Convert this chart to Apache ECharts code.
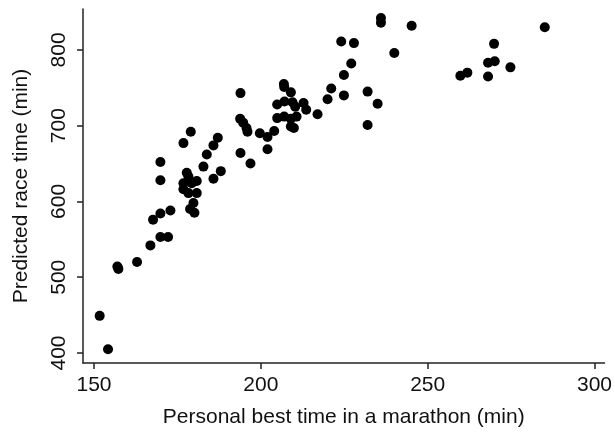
<!DOCTYPE html>
<html>
<head>
<meta charset="utf-8">
<script src="https://cdn.jsdelivr.net/npm/echarts@6/dist/echarts.min.js"></script>
<style>html,body{margin:0;padding:0;background:#fff;}#c{width:615px;height:433px;}</style>
</head>
<body>
<div id="c"></div>
<script>
// Personal best marathon time (min)
var pbTime = [151.7,154.2,157.0,157.3,162.9,166.9,169.9,172.2,167.7,169.9,172.9,169.9,169.9,176.8,179.0,177.8,178.3,176.8,179.3,180.8,176.8,178.3,180.8,179.8,178.8,180.1,182.8,183.8,185.8,187.1,185.8,188.0,193.9,193.8,194.7,195.7,196.0,193.9,196.9,199.7,202.0,204.0,202.0,206.9,207.0,209.0,204.9,207.1,209.5,210.3,212.8,213.6,204.9,207.0,209.0,210.7,209.0,209.9,217.0,220.0,221.1,224.1,227.9,227.1,224.9,224.9,232.0,235.0,232.0,236.0,236.0,245.2,240.0,259.8,261.9,268.1,268.1,270.1,269.9,274.8,285.1];
// Predicted race time (min)
var predTime = [449,405,514,511,520,542,553,553,576,584,588,628,652,677,692,638,633,624,624,627,616,611,611,598,590,585,646,662,674,684,630,640,743,709,704,697,692,664,650,690,685,693,669,755,751,744,728,732,731,725,730,721,710,712,709,712,699,697,715,735,749,811,809,782,767,740,745,729,701,842,836,832,796,766,770,765,783,785,808,777,830];
var xTicks = [150,200,250,300];
var yTicks = [400,500,600,700,800];
var xTitle = 'Personal best time in a marathon (min)';
var yTitle = 'Predicted race time (min)';

var pts = pbTime.map(function(x,i){return [x, predTime[i]];});
var font = 'Liberation Sans, Arial, sans-serif';
var chart = echarts.init(document.getElementById('c'), null, {renderer:'canvas'});
chart.setOption({
  animation:false,
  backgroundColor:'#fff',
  grid:{left:83,right:9,top:9,bottom:68,containLabel:false},
  xAxis:{
    type:'value', min:146.7, max:303,
    name:xTitle, nameLocation:'middle', nameGap:44,
    nameTextStyle:{fontFamily:font,fontSize:21,color:'#111'},
    splitLine:{show:false},
    axisLine:{lineStyle:{color:'#222',width:1.5}},
    axisTick:{customValues:xTicks,length:6,lineStyle:{color:'#222',width:1.5}},
    axisLabel:{customValues:xTicks,margin:12,fontFamily:font,fontSize:21,color:'#111'}
  },
  yAxis:{
    type:'value', min:386.8, max:854,
    name:yTitle, nameLocation:'middle', nameGap:51, nameRotate:90,
    nameTextStyle:{fontFamily:font,fontSize:21,color:'#111'},
    splitLine:{show:false},
    axisLine:{show:true,lineStyle:{color:'#222',width:1.5}},
    axisTick:{show:true,customValues:yTicks,length:6,lineStyle:{color:'#222',width:1.5}},
    axisLabel:{customValues:yTicks,rotate:90,margin:13,fontFamily:font,fontSize:21,color:'#111'}
  },
  series:[{
    type:'scatter', data:pts, symbol:'circle', symbolSize:10,
    itemStyle:{color:'#000',opacity:1}
  }]
});
</script>
</body>
</html>
